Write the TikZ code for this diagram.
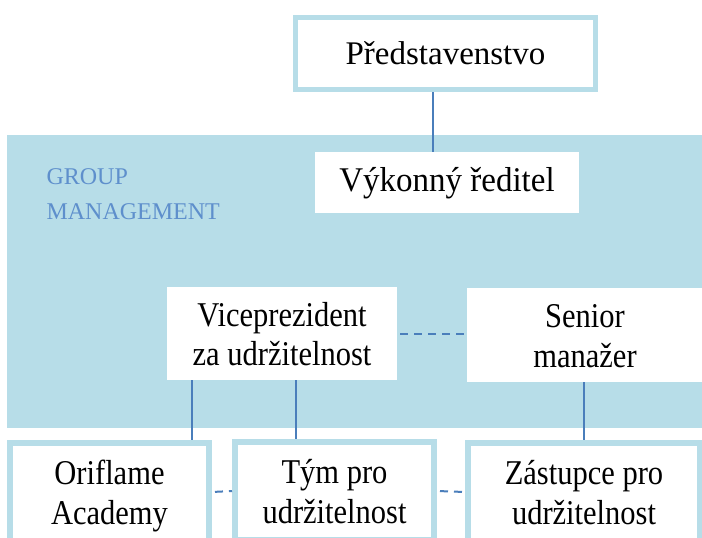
\documentclass[tikz,border=0pt]{standalone}
\usepackage{graphicx}
\usepackage{fontspec}
\setmainfont{Liberation Serif}
\definecolor{lb}{HTML}{B7DDE8}
\definecolor{conncol}{HTML}{4A7EBB}
\definecolor{gmcol}{HTML}{5E8FCC}
\newcommand\twoline[1]{\raisebox{-4.5pt}[\height][\depth]{\scalebox{1}[1.14]{\begin{tabular}{@{}c@{}}#1\end{tabular}}}}
\tikzset{
  whitebox/.style={fill=white, inner sep=0pt, align=center},
  framedbox/.style={whitebox, draw=lb, line width=6pt},
  conn/.style={draw=conncol, line width=1.8pt},
  dconn/.style={conn, line width=2pt, dash pattern=on 8pt off 6pt, dash phase=-3pt},
  bigfont/.style={font=\fontsize{33}{40}\selectfont},
  midfont/.style={font=\fontsize{30.5}{35}\selectfont},
}
\begin{document}
\begin{tikzpicture}[x=1pt, y=-1pt]
\useasboundingbox (0,0) rectangle (702,538);
\clip (0,0) rectangle (702,538);
\fill[white] (0,0) rectangle (702,538);
% group management panel
\fill[lb] (7,135) rectangle (703,428);
\node[anchor=base west, align=left, text=gmcol, font=\fontsize{24}{35}\selectfont] (gm) at (43,219) {GROUP\\MANAGEMENT};
% top
\node[framedbox, bigfont, line width=5pt, minimum width=300pt, minimum height=72pt] (pres) at (445.5,53.5) {Představenstvo};
\node[whitebox, bigfont, minimum width=264pt, minimum height=61pt] (vyk) at (447,182.5) {\raisebox{-1pt}[\height][\depth]{\scalebox{1}[1.05]{Výkonný ředitel}}};
% middle
\node[whitebox, midfont, minimum width=230pt, minimum height=93pt] (vp) at (282,333.5) {\twoline{Viceprezident\\za udržitelnost}};
\node[whitebox, midfont, minimum width=236pt, minimum height=94pt] (sen) at (585,335) {\twoline{Senior\\manažer}};
% bottom
\node[framedbox, midfont, minimum width=199pt, minimum height=98pt] (ori) at (109.5,492) {\twoline{Oriflame\\Academy}};
\node[framedbox, midfont, minimum width=199pt, minimum height=98pt] (tym) at (334.5,491) {\twoline{Tým pro\\udržitelnost}};
\node[framedbox, midfont, minimum width=232pt, minimum height=98pt] (zas) at (584,492) {\twoline{Zástupce pro\\udržitelnost}};
% connectors
\draw[conn] ([xshift=-12.5pt]pres.south) -- ([xshift=-12.5pt]pres.south |- vyk.north);
\draw[conn] ([xshift=-90pt]vp.south) -- ([xshift=-90pt]vp.south |- ori.north);
\draw[conn] ([xshift=14pt]vp.south) -- ([xshift=14pt]vp.south |- tym.north);
\draw[conn] ([xshift=-1pt]sen.south) -- ([xshift=-1pt]sen.south |- zas.north);
\draw[dconn] (vp.east) -- (vp.east -| sen.west);
\draw[dconn] (ori.east) -- (tym.west);
\draw[dconn] (tym.east) -- (zas.west);
\end{tikzpicture}
\end{document}
